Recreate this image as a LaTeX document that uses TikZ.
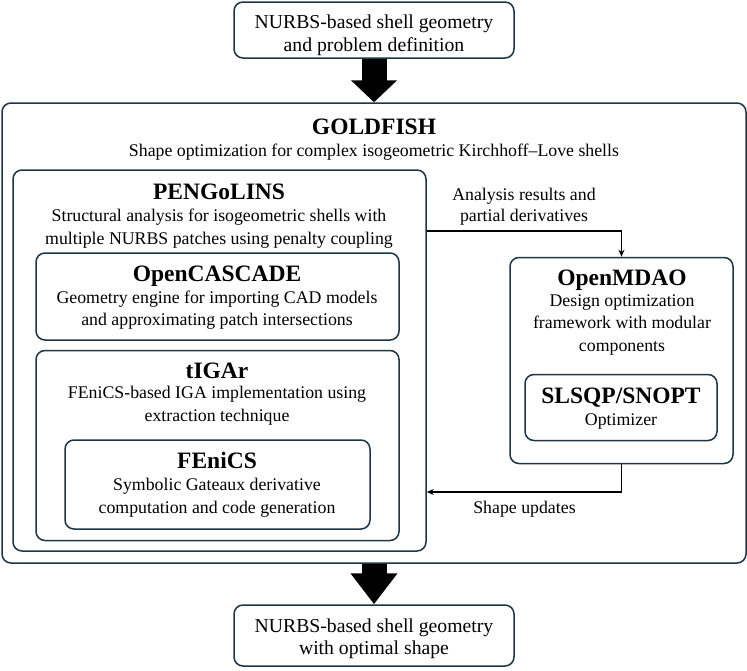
\documentclass[tikz,border=0pt]{standalone}
\usepackage{fontspec}
\setmainfont{Liberation Serif}
\usetikzlibrary{arrows.meta}
\definecolor{boxc}{HTML}{1E3546}
\begin{document}
\begin{tikzpicture}[x=1pt,y=-1pt,
  box/.style={draw=boxc, line width=1.5pt, rounded corners=9pt, inner sep=0pt},
  ttl/.style={font=\fontsize{23.5}{28}\selectfont\bfseries, inner sep=0pt, anchor=base},
  ln/.style={font=\fontsize{17.8}{20}\selectfont, inner sep=0pt, anchor=base},
  lnbig/.style={font=\fontsize{19.7}{23}\selectfont, inner sep=0pt, anchor=base},
  conn/.style={draw=black, line width=1.3pt},
  tip/.style={-{Stealth[length=7pt,width=6pt]}},
  big/.style={draw=black, line width=25pt}]
\useasboundingbox (0,0) rectangle (747,670);
\fill[white] (0,0) rectangle (747,670);
% boxes
\node[box, minimum width=280pt, minimum height=56pt] (top) at (374,30) {};
\node[box, minimum width=744pt, minimum height=460pt] (gold) at (374,333) {};
\node[box, minimum width=413pt, minimum height=381pt] (peng) at (219.5,360.5) {};
\node[box, minimum width=363pt, minimum height=87pt] (occ) at (217.5,296.5) {};
\node[box, minimum width=363pt, minimum height=190pt] (tig) at (217.5,445.5) {};
\node[box, minimum width=305pt, minimum height=89pt] (fen) at (217.5,484.5) {};
\node[box, minimum width=223pt, minimum height=206pt] (mdao) at (621.5,360.5) {};
\node[box, minimum width=192pt, minimum height=66pt] (slsqp) at (621,407.5) {};
\node[box, minimum width=280pt, minimum height=61pt] (bot) at (374,635.5) {};
% texts
\node[lnbig] (top1) at (374,28) {NURBS-based shell geometry};
\node[lnbig] (top2) at (374,51) {and problem definition};
\node[ttl] (goldt) at (374,134) {GOLDFISH};
\node[ln] (golds) at (374,156.5) {Shape optimization for complex isogeometric Kirchhoff–Love shells};
\node[ttl] (pengt) at (219,199) {PENGoLINS};
\node[ln] (pengs1) at (219,221.5) {Structural analysis for isogeometric shells with};
\node[ln] (pengs2) at (219,244.5) {multiple NURBS patches using penalty coupling};
\node[ttl] (occt) at (217,281) {OpenCASCADE};
\node[ln] (occs1) at (217,303.5) {Geometry engine for importing CAD models};
\node[ln] (occs2) at (217,325.5) {and approximating patch intersections};
\node[ttl] (tigt) at (217,378.3) {tIGAr};
\node[ln] (tigs1) at (217,398.5) {FEniCS-based IGA implementation using};
\node[ln] (tigs2) at (217,421.5) {extraction technique};
\node[ttl] (fent) at (217,468.5) {FEniCS};
\node[ln] (fens1) at (217,490.5) {Symbolic Gateaux derivative};
\node[ln] (fens2) at (217,513.5) {computation and code generation};
\node[ttl] (mdaot) at (622,285.5) {OpenMDAO};
\node[ln] (mdaos1) at (622,306.5) {Design optimization};
\node[ln] (mdaos2) at (622,328.5) {framework with modular};
\node[ln] (mdaos3) at (622,351.5) {components};
\node[ttl] (slsqpt) at (621,403.5) {SLSQP/SNOPT};
\node[ln] (slsqps) at (621,425.5) {Optimizer};
\node[lnbig] (bot1) at (374,632) {NURBS-based shell geometry};
\node[lnbig] (bot2) at (374,654.5) {with optimal shape};
% big arrows
\draw[big, -{Triangle[width=45pt,length=22pt]}] (top.south) -- (gold.north);
\draw[big, -{Triangle[width=45pt,length=31pt]}] (gold.south) -- (bot.north);
% connectors
\coordinate (c1) at (621.5,231);
\coordinate (c2) at (621.5,492);
\draw[conn, tip] (c1 -| peng.east) -- (c1) -- (mdao.north);
\draw[conn, tip] (mdao.south) -- (c2) -- (c2 -| peng.east);
\node[ln] (ana1) at (524,200.7) {Analysis results and};
\node[ln] (ana2) at (524,221.5) {partial derivatives};
\node[ln] (shp) at (524.5,513.7) {Shape updates};
\end{tikzpicture}
\end{document}
